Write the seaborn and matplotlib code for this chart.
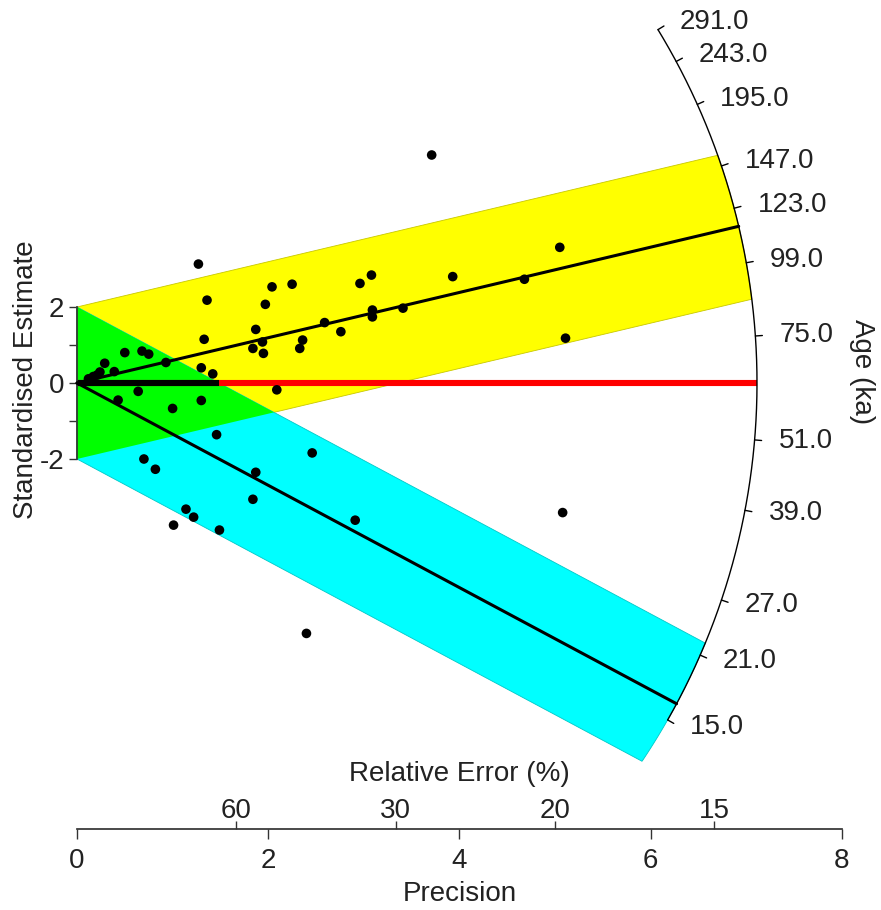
import numpy as np
import matplotlib
matplotlib.use("Agg")
import matplotlib.pyplot as plt
import seaborn as sns
import pandas as pd

# ---- data -------------------------------------------------------------
# radial coordinates of the single-grain estimates
precision = [3.71, 1.27, 1.36, 2.04, 2.25, 1.97, 1.87, 1.84, 1.95, 1.94,
             1.33, 2.33, 2.36, 2.59, 2.76, 2.96, 3.08, 3.09, 3.09, 3.41,
             3.93, 4.68, 5.05, 5.11, 0.68, 0.75, 0.50, 0.29, 0.93, 1.30,
             1.42, 0.39, 0.21, 0.17, 0.12, 0.24, 2.09, 0.64, 1.30, 0.43,
             1.00, 1.46, 0.70, 0.82, 2.46, 1.87, 1.84, 1.14, 1.22, 1.01,
             1.49, 2.91, 2.40, 5.08]
std_estimate = [6.00, 3.13, 2.18, 2.53, 2.60, 2.07, 1.41, 0.91, 0.78, 1.08,
                1.15, 0.91, 1.13, 1.59, 1.35, 2.62, 2.84, 1.92, 1.74, 1.97,
                2.80, 2.73, 3.57, 1.18, 0.84, 0.76, 0.80, 0.52, 0.54, 0.40,
                0.24, 0.30, 0.21, 0.17, 0.11, 0.29, -0.18, -0.22, -0.46, -0.45,
                -0.67, -1.36, -2.00, -2.27, -1.84, -2.35, -3.06, -3.32, -3.53, -3.74,
                -3.87, -3.61, -6.59, -3.41]

ref_age = 63.0                      # age of the horizontal reference line (ka)
component_ages = [114.3, 16.4]      # fitted component ages (ka)
component_colors = ["#ffff00", "#00ffff"]
component_edges = ["#c8c800", "#00c8c8"]
overlap_color = "#00ff00"
age_ticks = [291.0, 243.0, 195.0, 147.0, 123.0, 99.0, 75.0, 51.0, 39.0, 27.0, 21.0, 15.0]
precision_ticks = [0, 2, 4, 6, 8]
rel_error_ticks = [60, 30, 20, 15]
y_ticks = [-2, -1, 0, 1, 2]
y_tick_labels = ["-2", "", "0", "", "2"]

# ---- geometry ---------------------------------------------------------
W, H = 881, 910
PX_X, PX_Y = 95.6, 38.0      # pixels per unit along each axis
X0, Y0 = 77.0, 383.0         # pixel position of the origin
R_PX = 680.0                 # radius of the age scale in pixels
a, b = R_PX / PX_X, R_PX / PX_Y

sns.set_theme(style="white")
plt.rcParams["font.family"] = ["Liberation Sans", "DejaVu Sans"]
FS = 20
TXT = "#222222"

fig = plt.figure(figsize=(W / 100, H / 100), dpi=100)
ax = fig.add_axes([0, 0, 1, 1])
ax.set_xlim(-X0 / PX_X, (W - X0) / PX_X)
ax.set_ylim(-(H - Y0) / PX_Y, Y0 / PX_Y)
ax.patch.set_visible(False)


def slope(age):
    return np.log(age / ref_age)


def arc_angle(s):
    return np.arctan(s * a / b)


def edge_hit(s, c):
    A = 1 / a**2 + s**2 / b**2
    B = 2 * s * c / b**2
    C = c**2 / b**2 - 1
    x = (-B + np.sqrt(B * B - 4 * A * C)) / (2 * A)
    return x, s * x + c


def band_polygon(s, half=2.0, n=120):
    xh, yh = edge_hit(s, half)
    xl, yl = edge_hit(s, -half)
    ph = np.arctan2(yh / b, xh / a)
    pl = np.arctan2(yl / b, xl / a)
    t = np.linspace(ph, pl, n)
    xs = np.concatenate([[0, xh], a * np.cos(t), [xl, 0]])
    ys = np.concatenate([[half, yh], b * np.sin(t), [yl, -half]])
    return xs, ys


slopes = [slope(t) for t in component_ages]

# confidence bands of the two components
for s, fc, ec in zip(slopes, component_colors, component_edges):
    xs, ys = band_polygon(s)
    ax.fill(xs, ys, facecolor=fc, edgecolor=ec, linewidth=0.6, zorder=1)

# overlap of the two bands
s1, s2 = slopes
xi = 4.0 / (s1 - s2)
ax.fill([0, 0, xi], [2, -2, s1 * xi - 2], facecolor=overlap_color,
        edgecolor="none", zorder=1.2)

# reference line (darkened where it crosses the lower band)
ax.plot([0, a], [0, 0], color="#ff0000", lw=4.4, solid_capstyle="butt", zorder=2)
ax.plot([0, 2.0 / abs(s2)], [0, 0], color="black", lw=4.4,
        solid_capstyle="butt", zorder=2.1)

# component age lines
for s in slopes:
    p = arc_angle(s)
    ax.plot([0, a * np.cos(p)], [0, b * np.sin(p)], color="black", lw=2.2, zorder=3)

# age scale arc
p_lo, p_hi = arc_angle(slope(min(age_ticks))), arc_angle(slope(max(age_ticks)))
t = np.linspace(p_lo, p_hi, 300)
ax.plot(a * np.cos(t), b * np.sin(t), color="black", lw=1.0, zorder=3)

for age in age_ticks:
    p = arc_angle(slope(age))
    c, s_ = np.cos(p), np.sin(p)
    ax.plot([R_PX * c / PX_X, (R_PX + 7) * c / PX_X],
            [R_PX * s_ / PX_Y, (R_PX + 7) * s_ / PX_Y],
            color="black", lw=1.0, zorder=3)
    lx = ((R_PX + 14) * c + 10) / PX_X
    ly = ((R_PX + 14) * s_) / PX_Y
    ax.text(lx, ly, f"{age:.1f}", ha="left", va="center", fontsize=FS, color=TXT)

# single-grain estimates
df = pd.DataFrame({"precision": precision, "z": std_estimate})
sns.scatterplot(data=df, x="precision", y="z", color="black", s=48,
                edgecolor="none", ax=ax, zorder=5, legend=False)

# standardised estimate axis
for sp in ["top", "right", "bottom"]:
    ax.spines[sp].set_visible(False)
ax.spines["left"].set_position(("data", 0))
ax.spines["left"].set_bounds(-2, 2)
ax.spines["left"].set_color("#333333")
ax.set_xticks([])
ax.set_yticks(y_ticks, labels=y_tick_labels)
ax.tick_params(axis="y", left=True, direction="out", length=6, width=1,
               labelsize=FS, pad=3, colors="#333333", labelcolor=TXT)
ax.set_xlabel("")
ax.set_ylabel("")
fig.text(26 / W, 1 - 380 / H, "Standardised Estimate", rotation=90,
         ha="center", va="center", fontsize=FS, color=TXT)
fig.text(862 / W, 1 - 372 / H, "Age (ka)", rotation=270,
         ha="center", va="center", fontsize=FS, color=TXT)

# precision axis with relative error ticks
ax2 = fig.add_axes([0, (H - 829) / H, 1, 1e-4])
ax2.set_xlim(ax.get_xlim())
ax2.patch.set_visible(False)
ax2.set_yticks([])
for sp in ["top", "right", "left"]:
    ax2.spines[sp].set_visible(False)
ax2.spines["bottom"].set_bounds(0, 8)
ax2.spines["bottom"].set_color("#333333")
ax2.set_xticks(precision_ticks, labels=[str(v) for v in precision_ticks])
ax2.tick_params(axis="x", bottom=True, direction="out", length=7, width=1,
                labelsize=FS, pad=6.5, colors="#333333", labelcolor=TXT)
ax2.set_xlabel("Precision", fontsize=FS, labelpad=5.5, color=TXT)
ax2.xaxis.label.set_x((X0 + 4 * PX_X) / W)

ax3 = ax2.twiny()
ax3.set_xlim(ax2.get_xlim())
ax3.patch.set_visible(False)
for sp in ax3.spines.values():
    sp.set_visible(False)
ax3.set_yticks([])
ax3.set_xticks([100.0 / r for r in rel_error_ticks],
               labels=[str(r) for r in rel_error_ticks])
ax3.tick_params(axis="x", top=True, bottom=False, direction="out", length=6,
                width=1, labelsize=FS, pad=-2.5, colors="#333333", labelcolor=TXT)
ax3.set_xlabel("Relative Error (%)", fontsize=FS, labelpad=12, color=TXT)
ax3.xaxis.label.set_x((X0 + 4 * PX_X) / W)

fig.savefig("out.png", dpi=100)
